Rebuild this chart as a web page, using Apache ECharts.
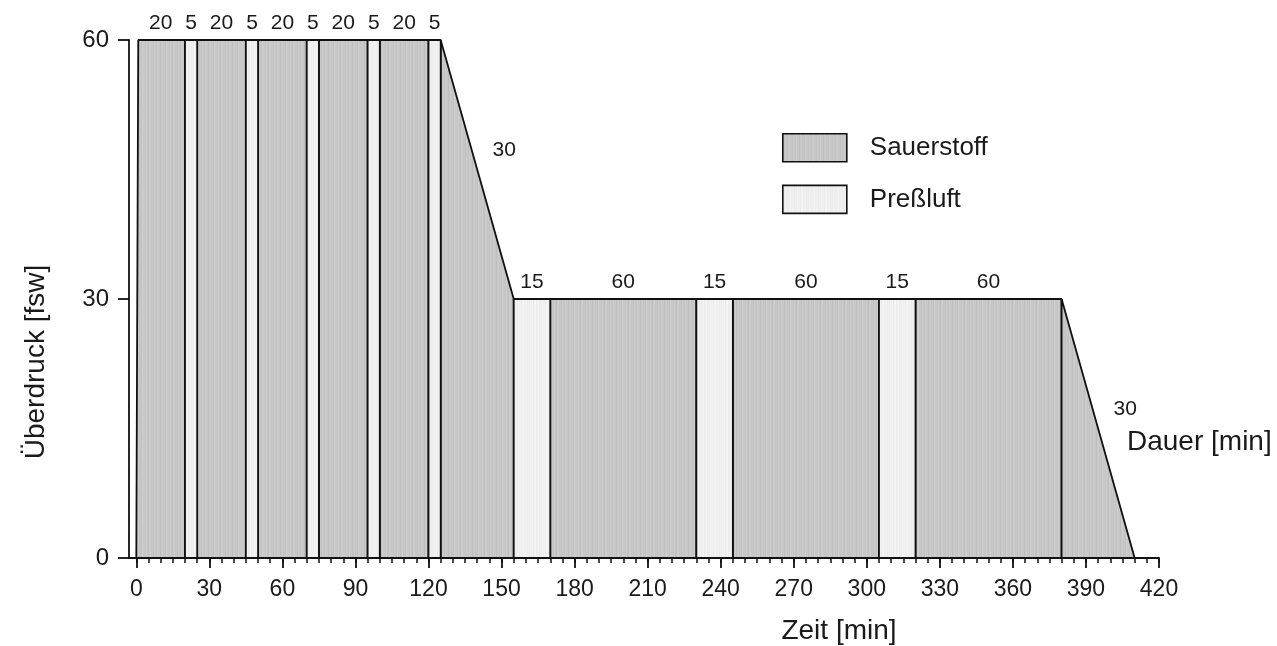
<!DOCTYPE html>
<html>
<head>
<meta charset="utf-8">
<script src="https://cdn.jsdelivr.net/npm/echarts@6/dist/echarts.min.js"></script>
<style>
  html, body { margin: 0; padding: 0; background: #ffffff; }
  #chart { width: 1277px; height: 646px; }
</style>
</head>
<body>
<div id="chart"></div>
<script>
// ---- data ----
const segDurations  = [20, 5, 20, 5, 20, 5, 20, 5, 20, 5, 30, 15, 60, 15, 60, 15, 60, 30];
const segStartDepth = [60, 60, 60, 60, 60, 60, 60, 60, 60, 60, 60, 30, 30, 30, 30, 30, 30, 30];
const segEndDepth   = [60, 60, 60, 60, 60, 60, 60, 60, 60, 60, 30, 30, 30, 30, 30, 30, 30, 0];
const segGas        = ['O2', 'Luft', 'O2', 'Luft', 'O2', 'Luft', 'O2', 'Luft', 'O2', 'Luft',
                       'O2', 'Luft', 'O2', 'Luft', 'O2', 'Luft', 'O2', 'O2'];
const descentEnd = 0.8;          // min at which 60 fsw is reached
const xTickValues = [0, 30, 60, 90, 120, 150, 180, 210, 240, 270, 300, 330, 360, 390, 420];
const yTickValues = [0, 30, 60];
const seriesNames = { O2: 'Sauerstoff', Luft: 'Preßluft' };

// ---- derived ----
const segStart = [];
let acc = 0;
segDurations.forEach(d => { segStart.push(acc); acc += d; });
const minorTicks = [];
for (let t = 0; t <= 420; t += 5) minorTicks.push(t);

// ---- texture patterns (style only) ----
function makePattern(grays) {
  const c = document.createElement('canvas');
  c.width = grays.length; c.height = 6;
  const ctx = c.getContext('2d');
  grays.forEach((g, i) => {
    ctx.fillStyle = 'rgb(' + g + ',' + g + ',' + g + ')';
    ctx.fillRect(i, 0, 1, 6);
  });
  return { image: c, repeat: 'repeat' };
}
const o2Fill  = makePattern([201, 195, 206, 198, 191, 203, 208, 196, 200, 192, 204, 199, 194, 207, 197, 202, 190, 201, 205, 196, 199, 193, 208, 200]);
const airFill = makePattern([240, 236, 244, 238, 242, 235, 241, 245, 237, 239, 243, 236]);
const fills = { O2: o2Fill, Luft: airFill };

const FONT = '"Liberation Sans", Arial, Helvetica, sans-serif';
const TXT = '#1a1a1a';

function buildData(gas) {
  const out = [];
  segDurations.forEach((d, i) => {
    if (segGas[i] === gas) {
      out.push({ value: [segStart[i], segStart[i] + d, segStartDepth[i], segEndDepth[i], i] });
    }
  });
  return out;
}

function makeRender(gas) {
  return function (params, api) {
    const t0 = api.value(0), t1 = api.value(1), d0 = api.value(2), d1 = api.value(3), idx = api.value(4);
    const tTop = idx === 0 ? descentEnd : t0;
    const pts = [api.coord([t0, 0]), api.coord([tTop, d0]), api.coord([t1, d1]), api.coord([t1, 0])];
    const children = [{
      type: 'polygon',
      shape: { points: pts },
      style: { fill: fills[gas], stroke: '#111', lineWidth: 1.8, lineJoin: 'bevel' }
    }];
    const label = String(segDurations[idx]);
    let lx, ly;
    if (d0 === d1) {
      const top = api.coord([(t0 + t1) / 2, d0]);
      lx = top[0]; ly = top[1] - 17;
    } else {
      const mid = api.coord([(t0 + t1) / 2, (d0 + d1) / 2]);
      lx = mid[0] + 27; ly = mid[1] - 19;
    }
    children.push({
      type: 'text', x: lx, y: ly,
      style: { text: label, fill: TXT, fontSize: 21, fontFamily: FONT, align: 'center', verticalAlign: 'middle' }
    });
    return { type: 'group', children: children };
  };
}

const chart = echarts.init(document.getElementById('chart'), null, { renderer: 'canvas' });

const option = {
  backgroundColor: '#ffffff',
  animation: false,
  grid: { left: 129, right: 118, top: 40, bottom: 88, containLabel: false },
  legend: {
    orient: 'vertical',
    left: 782, top: 133, padding: 0,
    itemWidth: 64, itemHeight: 28, itemGap: 22,
    icon: 'rect',
    selectedMode: false,
    textStyle: { fontSize: 26, fontFamily: FONT, color: TXT, padding: [3, 0, 0, 18] },
    data: [
      { name: 'Sauerstoff', itemStyle: { color: o2Fill, borderColor: '#111', borderWidth: 1.6 } },
      { name: 'Preßluft', itemStyle: { color: airFill, borderColor: '#111', borderWidth: 1.6 } }
    ]
  },
  xAxis: [
    {
      type: 'value', min: -3, max: 420, position: 'bottom',
      axisLine: { show: true, onZero: false, lineStyle: { color: '#111', width: 1.8 } },
      axisTick: { show: true, length: 10, inside: false, customValues: xTickValues, lineStyle: { color: '#111', width: 1.8 } },
      axisLabel: { customValues: xTickValues, fontSize: 23, fontFamily: FONT, color: TXT, margin: 20 },
      splitLine: { show: false }
    },
    {
      type: 'value', min: -3, max: 420, position: 'bottom',
      axisLine: { show: false },
      axisTick: { show: true, length: 5, inside: false, customValues: minorTicks, lineStyle: { color: '#111', width: 1.5 } },
      axisLabel: { show: false },
      splitLine: { show: false }
    }
  ],
  yAxis: {
    type: 'value', min: 0, max: 60, interval: 30,
    axisLine: { show: true, onZero: false, lineStyle: { color: '#111', width: 1.8 } },
    axisTick: { show: true, length: 11, inside: false, lineStyle: { color: '#111', width: 1.8 } },
    axisLabel: { fontSize: 24, fontFamily: FONT, color: TXT, margin: 20 },
    splitLine: { show: false }
  },
  series: ['O2', 'Luft'].map(gas => ({
    type: 'custom',
    name: seriesNames[gas],
    xAxisIndex: 0, yAxisIndex: 0,
    clip: false,
    itemStyle: { color: fills[gas], borderColor: '#111', borderWidth: 1.6 },
    encode: { x: [0, 1], y: [2, 3] },
    renderItem: makeRender(gas),
    data: buildData(gas)
  })),
  graphic: [
    { type: 'text', x: 839, y: 631, style: { text: 'Zeit [min]', fontSize: 28, fontFamily: FONT, fill: TXT, align: 'center', verticalAlign: 'middle' } },
    { type: 'text', x: 1127, y: 442, style: { text: 'Dauer [min]', fontSize: 28, fontFamily: FONT, fill: TXT, align: 'left', verticalAlign: 'middle' } },
    { type: 'text', x: 36, y: 362, rotation: Math.PI / 2, style: { text: 'Überdruck [fsw]', fontSize: 28, fontFamily: FONT, fill: TXT, align: 'center', verticalAlign: 'middle' } }
  ]
};

chart.setOption(option);
</script>
</body>
</html>
